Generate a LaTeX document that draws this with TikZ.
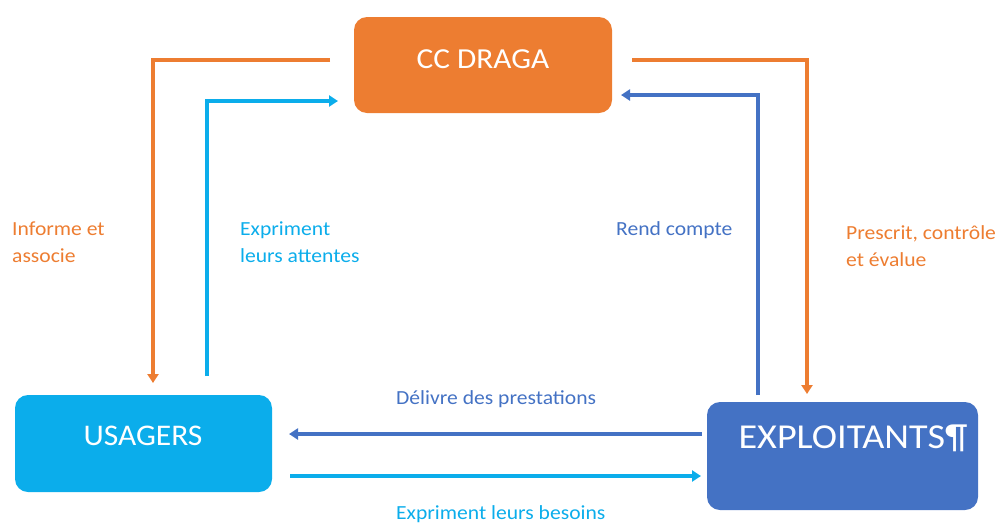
\documentclass[tikz,border=0pt]{standalone}
\usepackage{fontspec}
\setmainfont{Carlito}
\usetikzlibrary{arrows.meta}
\definecolor{corange}{HTML}{ED7D31}
\definecolor{ccyan}{HTML}{0BADEB}
\definecolor{cblue}{HTML}{4472C4}
\newcommand{\wide}[2]{\scalebox{#1}[1]{#2}}
\tikzset{
  box/.style={rounded corners=13pt, draw=none, inner sep=0pt},
  boxtext/.style={text=white, anchor=base, inner sep=0pt},
  lbl/.style={anchor=base west, inner sep=0pt, font=\fontsize{20}{24}\selectfont},
  conn/.style={line width=3.2pt, -{Triangle[width=11pt,length=9pt]}}
}
\begin{document}
\begin{tikzpicture}[x=1pt,y=-1pt]
\useasboundingbox (0,0) rectangle (999,523);
% boxes
\node[box, fill=corange, minimum width=258pt, minimum height=96pt] (cc) at (483,65) {};
\node[box, fill=ccyan, minimum width=257pt, minimum height=97pt] (us) at (143.5,443.5) {};
\node[box, fill=cblue, minimum width=271pt, minimum height=108pt] (ex) at (842.5,456) {};
\node[boxtext, font=\fontsize{29}{33}\selectfont] (cct) at (483,68) {\wide{1.08}{CC DRAGA}};
\node[boxtext, font=\fontsize{30}{34}\selectfont] (ust) at (143,445) {\wide{1.05}{USAGERS}};
\node[boxtext, font=\fontsize{35}{39}\selectfont] (ext) at (853,448) {\wide{1.09}{EXPLOITANTS¶}};
% free ends
\coordinate (o1s) at (330,60);
\coordinate (o1e) at (153,383);
\coordinate (c1s) at (207,376);
\coordinate (c1e) at (338,101);
\coordinate (b1s) at (758,395);
\coordinate (b1e) at (621,95);
\coordinate (o2s) at (632,60);
\coordinate (o2e) at (807,394);
\coordinate (b2s) at (702,434);
\coordinate (b2e) at (289,434);
\coordinate (c2s) at (290,476);
\coordinate (c2e) at (701,476);
% connectors
\draw[conn, corange] (o1s) -| (o1e);
\draw[conn, ccyan] (c1s) |- (c1e);
\draw[conn, cblue] (b1s) |- (b1e);
\draw[conn, corange] (o2s) -| (o2e);
\draw[conn, cblue] (b2s) -- (b2e);
\draw[conn, ccyan] (c2s) -- (c2e);
% labels
\node[lbl, text=corange] (l1a) at (12,235) {\wide{1.08}{Informe et}};
\node[lbl, text=corange] (l1b) at (12,262) {\wide{1.08}{associe}};
\node[lbl, text=ccyan] (l2a) at (240,235) {\wide{1.08}{Expriment}};
\node[lbl, text=ccyan] (l2b) at (240,262) {\wide{1.08}{leurs attentes}};
\node[lbl, text=cblue] (l3) at (616,235) {\wide{1.08}{Rend compte}};
\node[lbl, text=corange] (l4a) at (846,239) {\wide{1.08}{Prescrit, contrôle}};
\node[lbl, text=corange] (l4b) at (846,266) {\wide{1.08}{et évalue}};
\node[lbl, text=cblue] (l5) at (396,404) {\wide{1.08}{Délivre des prestations}};
\node[lbl, text=ccyan] (l6) at (396,519) {\wide{1.08}{Expriment leurs besoins}};
\end{tikzpicture}
\end{document}
